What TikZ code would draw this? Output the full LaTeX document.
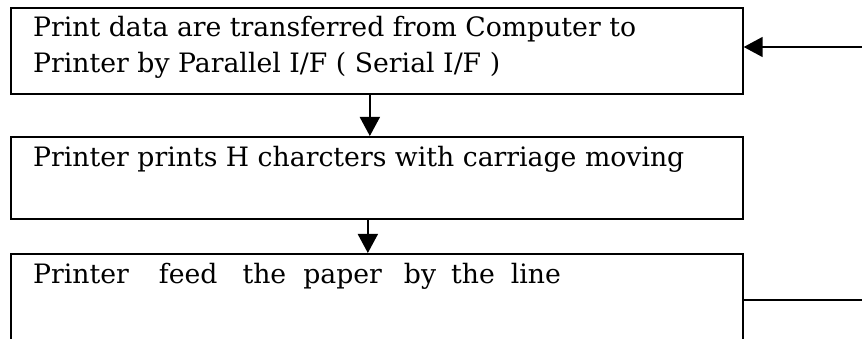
\documentclass[tikz,border=0pt]{standalone}
\usepackage{fontspec}
\setmainfont{DejaVu Serif}
\usetikzlibrary{arrows.meta}
\begin{document}
\begin{tikzpicture}[x=1pt,y=-1pt,
  box/.style={draw, line width=1.7pt, minimum width=732pt, inner sep=0pt, anchor=north west},
  txt/.style={anchor=base west, inner sep=0pt, font=\fontsize{26.7}{32}\selectfont},
  conn/.style={line width=1.7pt},
  arr/.style={conn, -{Triangle[length=19pt,width=20pt]}}]
\useasboundingbox (0,0) rectangle (862,339);
\clip (0,0) rectangle (862,339);
\node[box, minimum height=86pt] (b1) at (10,7) {};
\node[box, minimum height=82pt] (b2) at (10,136) {};
\node[box, minimum height=130pt] (b3) at (10,253) {};
\node[txt] (t1) at (33,37) {Print data are transferred from Computer to};
\node[txt] (t2) at (33,73) {Printer by Parallel I/F ( Serial I/F )};
\node[txt] (t3) at (33,167) {Printer prints H charcters with carriage moving};
\node[txt] (t4) at (33,283) {Printer\hspace{30pt}feed\hspace{25pt}the\hspace{17pt}paper\hspace{22pt}by\hspace{15pt}the\hspace{16pt}line};
\coordinate (in) at (862,47);
\coordinate (out) at (862,300);
\draw[arr] (in) -- (in -| b1.east);
\draw[arr] ([xshift=-7pt]b1.south) -- ([xshift=-7pt]b2.north);
\draw[arr] ([xshift=-9pt]b2.south) -- ([xshift=-9pt]b3.north);
\draw[conn] (out -| b3.east) -- (out);
\end{tikzpicture}
\end{document}
